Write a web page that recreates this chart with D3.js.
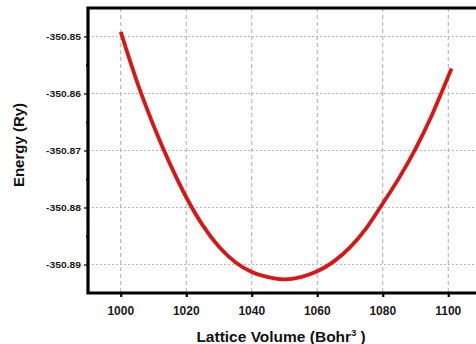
<!DOCTYPE html>
<html>
<head>
<meta charset="utf-8">
<script src="https://cdn.jsdelivr.net/npm/d3@7"></script>
<style>
  body { margin: 0; background: #fff; }
  svg { display: block; font-family: "Liberation Sans", Arial, sans-serif; }
  .grid-x line { stroke: #aaaaaa; stroke-width: 1; stroke-dasharray: 4,3; }
  .grid-y line { stroke: #b8b8b8; stroke-width: 1; stroke-dasharray: 2,2; }
  .ticklabel { font-weight: bold; fill: #1a1a1a; }
  .axislabel { font-weight: bold; fill: #111; }
</style>
</head>
<body>
<div id="chart"></div>
<script>
// values
var volumes = [1000, 1005, 1010, 1015, 1020, 1025, 1030, 1035, 1040, 1045, 1050,
               1055, 1060, 1065, 1070, 1075, 1080, 1085, 1090, 1095, 1100, 1101];
var energies = [-350.8492, -350.8580, -350.8656, -350.8723, -350.8782, -350.8831,
                -350.8869, -350.8896, -350.8913, -350.8922, -350.8926,
                -350.8922, -350.8912, -350.8895, -350.8870, -350.8836, -350.8793,
                -350.8748, -350.8697, -350.8638, -350.8570, -350.8556];
var xTicks = [1000, 1020, 1040, 1060, 1080, 1100];
var yTicks = [-350.85, -350.86, -350.87, -350.88, -350.89];
var yMinorTicks = [-350.855, -350.865, -350.875, -350.885];

function energyPlot(id){
    var w = 476, h = 344;
    var padL = 88, padT = 8, padB = 293, padR = 481;

    var data = volumes.map(function(v, i){ return {v: v, e: energies[i]}; });

    var xScale = d3.scaleLinear()
        .domain([990, 1110])
        .range([padL, padR]);

    var yScale = d3.scaleLinear()
        .domain([-350.895, -350.845])
        .range([padB, padT]);

    var svg = d3.select(id)
        .append("svg")
        .attr("width", w)
        .attr("height", h);

    // grid lines
    svg.append("g")
        .attr("class", "grid-x")
        .selectAll("line")
        .data(xTicks)
        .enter()
        .append("line")
        .attr("x1", function(d){ return xScale(d); })
        .attr("x2", function(d){ return xScale(d); })
        .attr("y1", padT)
        .attr("y2", padB);

    svg.append("g")
        .attr("class", "grid-y")
        .selectAll("line")
        .data(yTicks)
        .enter()
        .append("line")
        .attr("x1", padL)
        .attr("x2", padR)
        .attr("y1", function(d){ return yScale(d); })
        .attr("y2", function(d){ return yScale(d); });

    // curve
    var line = d3.line()
        .x(function(d){ return xScale(d.v); })
        .y(function(d){ return yScale(d.e); })
        .curve(d3.curveMonotoneX);

    svg.append("path")
        .datum(data)
        .attr("d", line)
        .attr("fill", "none")
        .attr("stroke", "#d81616")
        .attr("stroke-width", 3.8);

    // axes
    var xAxis = d3.axisBottom(xScale)
        .tickValues(xTicks)
        .tickSize(4)
        .tickFormat("");

    var yAxis = d3.axisLeft(yScale)
        .tickValues(yTicks)
        .tickSize(4)
        .tickFormat("");

    var yMinor = d3.axisLeft(yScale)
        .tickValues(yMinorTicks)
        .tickSize(2)
        .tickFormat("");

    var gx = svg.append("g")
        .attr("transform", "translate(0," + padB + ")")
        .call(xAxis);
    gx.select(".domain").remove();
    gx.selectAll(".tick line").attr("stroke", "#000").attr("stroke-width", 2.2);

    var gy = svg.append("g")
        .attr("transform", "translate(" + padL + ",0)")
        .call(yAxis);
    gy.select(".domain").remove();
    gy.selectAll(".tick line").attr("stroke", "#000").attr("stroke-width", 1.2);

    var gym = svg.append("g")
        .attr("transform", "translate(" + padL + ",0)")
        .call(yMinor);
    gym.select(".domain").remove();
    gym.selectAll(".tick line").attr("stroke", "#000").attr("stroke-width", 2.6);

    // frame: top, left and bottom lines
    svg.append("path")
        .attr("d", "M" + padR + "," + padT + "H" + padL + "V" + padB + "H" + padR)
        .attr("fill", "none")
        .attr("stroke", "#000")
        .attr("stroke-width", 3.2)
        .attr("stroke-linecap", "round");

    // tick labels
    svg.selectAll("xlabels")
        .data(xTicks)
        .enter()
        .append("text")
        .attr("class", "ticklabel")
        .attr("x", function(d){ return xScale(d); })
        .attr("y", 315)
        .attr("text-anchor", "middle")
        .style("font-size", "12px")
        .text(function(d){ return d; });

    svg.selectAll("ylabels")
        .data(yTicks)
        .enter()
        .append("text")
        .attr("class", "ticklabel")
        .attr("x", 81)
        .attr("y", function(d){ return yScale(d) + 3; })
        .attr("text-anchor", "end")
        .attr("textLength", 35)
        .attr("lengthAdjust", "spacingAndGlyphs")
        .style("font-size", "8.5px")
        .text(function(d){ return d.toFixed(2); });

    // axis titles
    var xt = svg.append("text")
        .attr("class", "axislabel")
        .attr("x", 281)
        .attr("y", 342)
        .attr("text-anchor", "middle")
        .style("font-size", "15.5px");
    xt.append("tspan").text("Lattice Volume (Bohr");
    xt.append("tspan").attr("dy", -6).style("font-size", "9px").text("3");
    xt.append("tspan").attr("dy", 6).text(" )");

    svg.append("text")
        .attr("class", "axislabel")
        .attr("transform", "translate(24,145) rotate(-90)")
        .attr("text-anchor", "middle")
        .style("font-size", "15px")
        .text("Energy (Ry)");

    return svg;
}

energyPlot("#chart");
</script>
</body>
</html>
